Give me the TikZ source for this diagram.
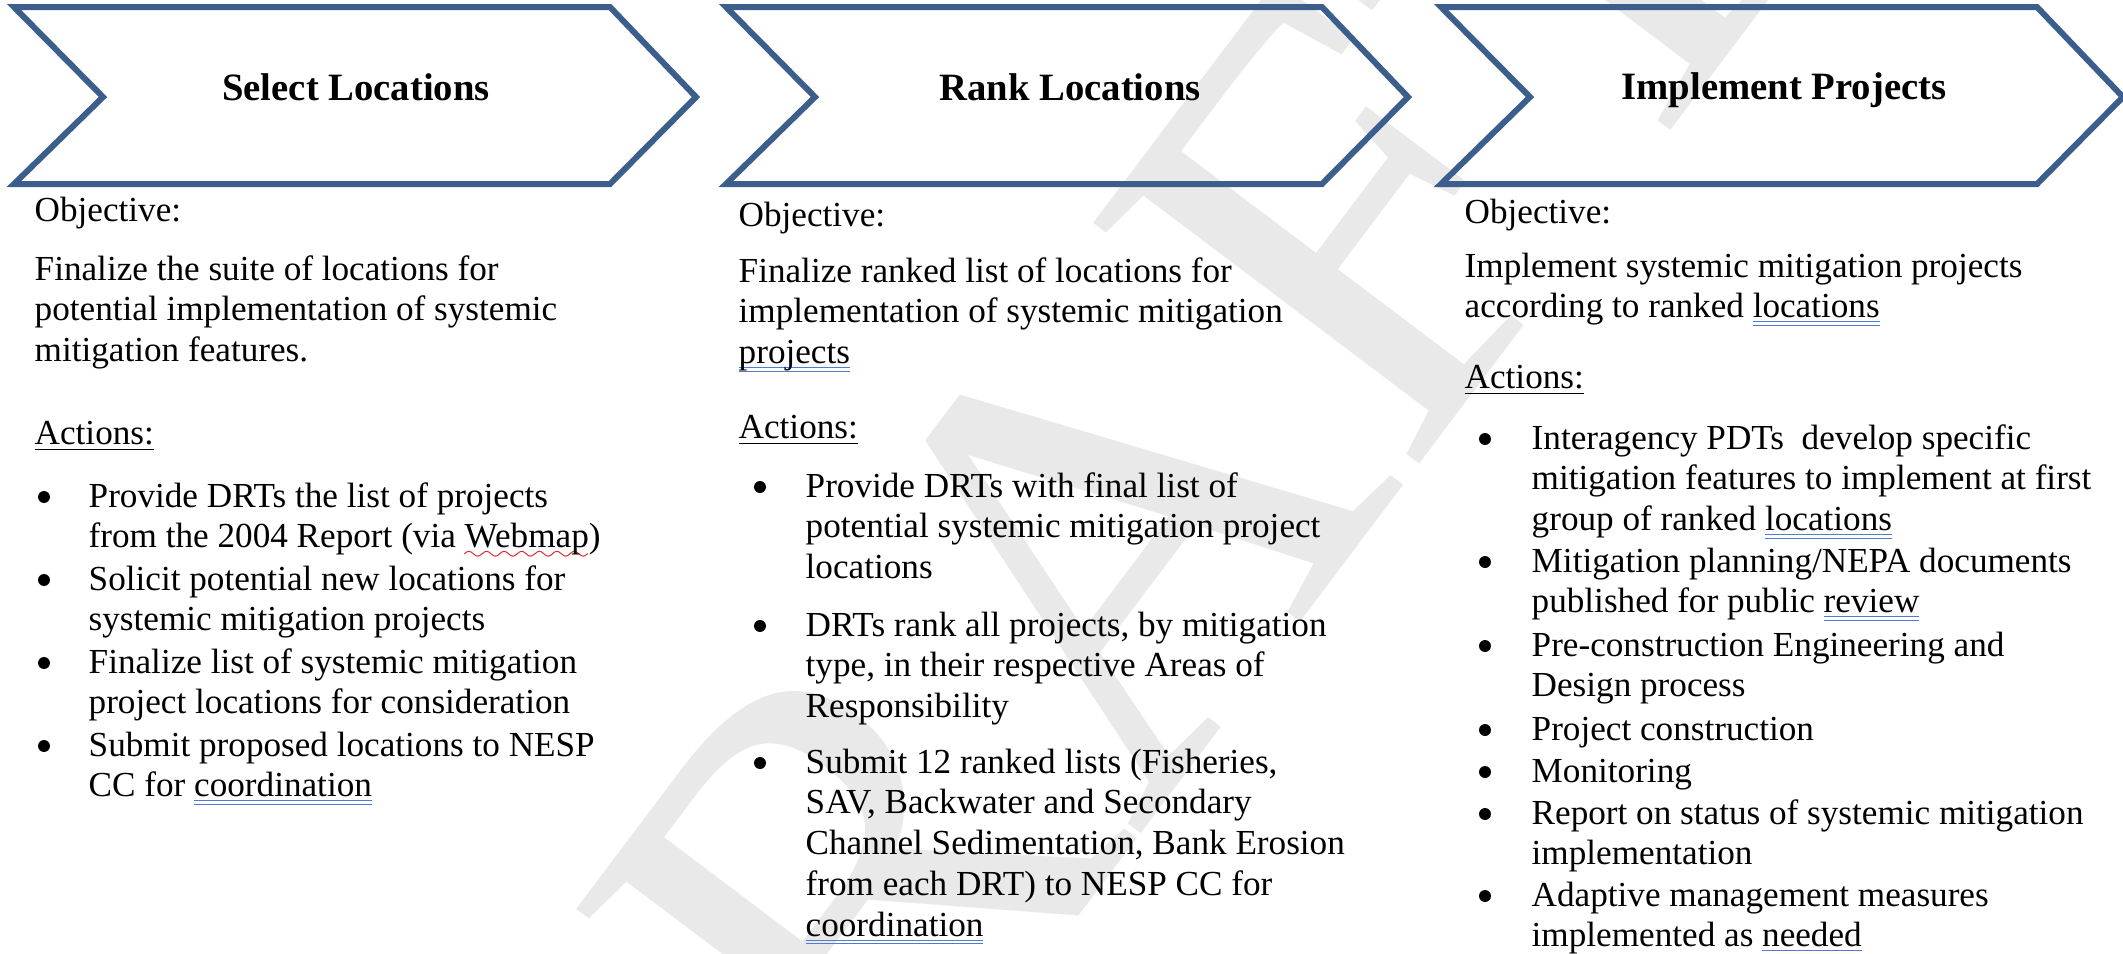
\documentclass[tikz,border=0pt]{standalone}
\usepackage{fontspec}
\setmainfont{Liberation Serif}
\usepackage{tikz}
\definecolor{chevblue}{RGB}{59,94,141}
\definecolor{gramblue}{RGB}{80,125,210}
\definecolor{spellred}{RGB}{225,30,30}
\definecolor{wmgray}{RGB}{233,233,233}
\tikzset{
  chev/.style={draw=chevblue, line width=1.7pt},
  head/.style={font=\fontsize{11}{13}\selectfont\bfseries, anchor=base, inner sep=0pt},
  txt/.style={font=\fontsize{10}{11.6}\selectfont, inner sep=0pt, anchor=base west},
  bul/.style={circle, fill=black, inner sep=0pt, minimum size=3.4pt},
  wmark/.style={text=wmgray, font=\fontsize{176}{176}\selectfont, inner sep=0pt}
}
\newsavebox{\wordbox}
\font\wavefont=lasy6
\newcommand{\lines}[1]{\begin{tabular}[t]{@{}l@{}}#1\end{tabular}}
\newcommand{\gram}[1]{\sbox{\wordbox}{#1}\rlap{\color{gramblue}\rule[-1.3pt]{\wd\wordbox}{0.3pt}\kern-\wd\wordbox\rule[-2.3pt]{\wd\wordbox}{0.3pt}}#1}
\newcommand{\spell}[1]{\sbox{\wordbox}{#1}\rlap{\color{spellred}\lower3.2pt\hbox to\wd\wordbox{\leaders\hbox{\wavefont\char58}\hfil}}#1}
\newcommand{\chevron}[1]{\draw[chev] (#1,7) -- ++(596,0) -- ++(86,90) -- ++(-86,87) -- ++(-596,0) -- ++(89,-87) -- cycle;}

\begin{document}
\begin{tikzpicture}[x=0.01cm, y=-0.01cm]
\useasboundingbox (0,0) rectangle (2123,953);
\begin{scope}
\clip (0,0) rectangle (2123,953);
\node[wmark, rotate=53] (draft) at (1068,592) {DRAFT};
\end{scope}

\chevron{14}
\chevron{726}
\chevron{1441}

\node[head] (select) at (356,100) {Select Locations};
\node[head] (rank) at (1070,100) {Rank Locations};
\node[head] (impl) at (1784,99) {Implement Projects};

\node[txt] (obj1) at (34,221) {Objective:};
\node[txt] (goal1) at (34,280) {\lines{Finalize the suite of locations for\\potential implementation of systemic\\mitigation features.}};
\node[txt] (act1) at (34,444) {\underline{Actions:}};
\node[bul] (b11) at (44,497) {};
\node[txt] (a11) at (88,507) {\lines{Provide DRTs the list of projects\\from the 2004 Report (via \spell{Webmap})}};
\node[bul] (b12) at (44,580) {};
\node[txt] (a12) at (88,590) {\lines{Solicit potential new locations for\\systemic mitigation projects}};
\node[bul] (b13) at (44,663) {};
\node[txt] (a13) at (88,673) {\lines{Finalize list of systemic mitigation\\project locations for consideration}};
\node[bul] (b14) at (44,746) {};
\node[txt] (a14) at (88,756) {\lines{Submit proposed locations to NESP\\CC for \gram{coordination}}};

\node[txt] (obj2) at (738,226) {Objective:};
\node[txt] (goal2) at (738,282) {\lines{Finalize ranked list of locations for\\implementation of systemic mitigation\\\gram{projects}}};
\node[txt] (act2) at (738,438) {\underline{Actions:}};
\node[bul] (b21) at (760,487) {};
\node[txt] (a21) at (805,497) {\lines{Provide DRTs with final list of\\potential systemic mitigation project\\locations}};
\node[bul] (b22) at (760,626) {};
\node[txt] (a22) at (805,636) {\lines{DRTs rank all projects, by mitigation\\type, in their respective Areas of\\Responsibility}};
\node[bul] (b23) at (760,763) {};
\node[txt] (a23) at (805,773) {\lines{Submit 12 ranked lists (Fisheries,\\SAV, Backwater and Secondary\\Channel Sedimentation, Bank Erosion\\from each DRT) to NESP CC for\\\gram{coordination}}};

\node[txt] (obj3) at (1464,223) {Objective:};
\node[txt] (goal3) at (1464,277) {\lines{Implement systemic mitigation projects\\according to ranked \gram{locations}}};
\node[txt] (act3) at (1464,388) {\underline{Actions:}};
\node[bul] (b31) at (1485,439) {};
\node[txt] (a31) at (1531,449) {\lines{Interagency PDTs\ \ develop specific\\mitigation features to implement at first\\group of ranked \gram{locations}}};
\node[bul] (b32) at (1485,562) {};
\node[txt] (a32) at (1531,572) {\lines{Mitigation planning/NEPA documents\\published for public \gram{review}}};
\node[bul] (b33) at (1485,646) {};
\node[txt] (a33) at (1531,656) {\lines{Pre-construction Engineering and\\Design process}};
\node[bul] (b34) at (1485,730) {};
\node[txt] (a34) at (1531,740) {Project construction};
\node[bul] (b35) at (1485,772) {};
\node[txt] (a35) at (1531,782) {Monitoring};
\node[bul] (b36) at (1485,814) {};
\node[txt] (a36) at (1531,824) {\lines{Report on status of systemic mitigation\\implementation}};
\node[bul] (b37) at (1485,896) {};
\node[txt] (a37) at (1531,906) {\lines{Adaptive management measures\\implemented as \gram{needed}}};
\end{tikzpicture}
\end{document}
